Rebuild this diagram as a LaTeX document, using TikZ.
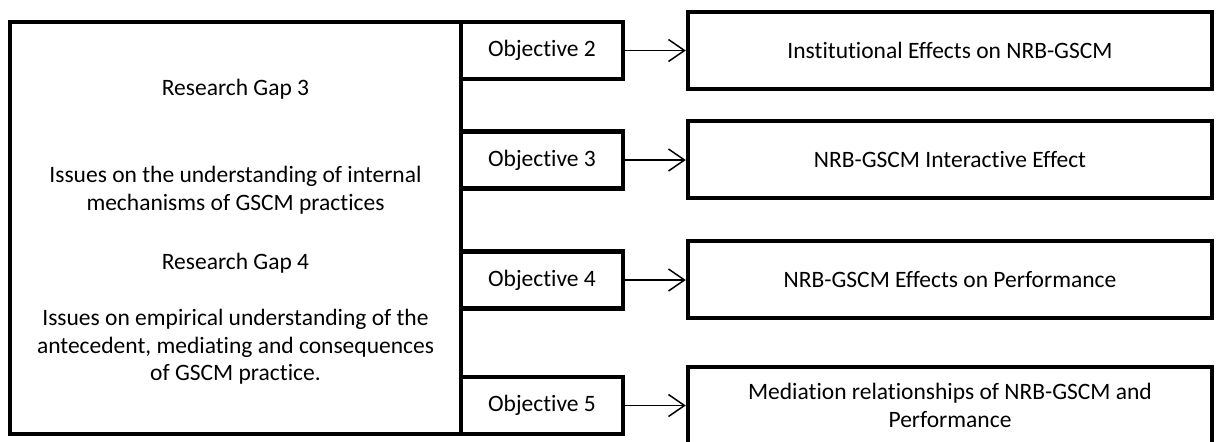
\documentclass[tikz,border=0pt]{standalone}
\usepackage{fontspec}
\setmainfont{Carlito}[RawFeature={-liga;-clig;-dlig;-calt}]
\usetikzlibrary{arrows.meta}
\begin{document}
\begin{tikzpicture}[x=0.5pt, y=-0.5pt,
  every node/.style={font=\fontsize{11.75}{13.8}\selectfont},
  gapbox/.style={draw, line width=2.4pt, inner sep=0pt, minimum width=225.5pt, minimum height=206pt},
  objbox/.style={draw, line width=2.2pt, inner sep=0pt, minimum width=81pt, minimum height=28.5pt},
  resbox/.style={draw, line width=2.2pt, inner sep=0pt, minimum width=262pt, minimum height=38.5pt, align=center},
  txt/.style={inner sep=0pt, align=center},
  link/.style={line width=0.75pt, -{Straight Barb[length=8pt, width=11pt, line width=0.75pt]}}]
\useasboundingbox (0,0) rectangle (1216,441);
\clip (0,0) rectangle (1216,441);

% research gaps
\node[gapbox] (gap) at (235.5,228) {};
\node[txt] (g3title) at (235.5,89) {Research Gap 3};
\node[txt] (g3desc) at (235.5,190) {Issues on the understanding of internal\\mechanisms of GSCM practices};
\node[txt] (g4title) at (235.5,263) {Research Gap 4};
\node[txt] (g4desc) at (235.5,347) {Issues on empirical understanding of the\\antecedent, mediating and consequences\\of GSCM practice.};

% objectives
\node[objbox] (o2) at (542,50.5) {Objective 2};
\node[objbox] (o3) at (542,160) {Objective 3};
\node[objbox] (o4) at (542,280) {Objective 4};
\node[objbox] (o5) at (542,405.5) {Objective 5};

% outcomes
\node[resbox] (r2) at (950,50.5) {Institutional Effects on NRB-GSCM};
\node[resbox] (r3) at (950,159.5) {NRB-GSCM Interactive Effect};
\node[resbox] (r4) at (950,279.5) {NRB-GSCM Effects on Performance};
\node[resbox] (r5) at (950,405.5) {Mediation relationships of NRB-GSCM and\\Performance};

% links
\draw[link] (o2.east) -- (o2.east -| r2.west);
\draw[link] (o3.east) -- (o3.east -| r3.west);
\draw[link] (o4.east) -- (o4.east -| r4.west);
\draw[link] (o5.east) -- (o5.east -| r5.west);
\end{tikzpicture}
\end{document}
